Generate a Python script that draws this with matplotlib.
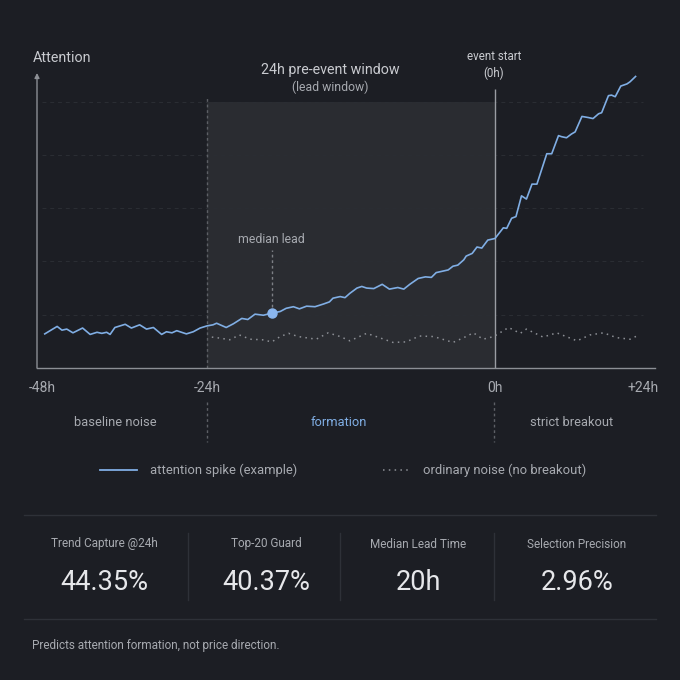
import numpy as np
import matplotlib
matplotlib.use("Agg")
import matplotlib.pyplot as plt
from matplotlib.lines import Line2D

# --- data ---
spike_h = [-47.6, -45.8, -45.1, -44.4, -43.5, -42.1, -41.0, -40.0, -39.3, -38.6, -38.1, -37.4,
           -35.9, -35.0, -33.8, -32.8, -31.8, -30.6, -29.9, -29.1, -28.4, -27.0, -26.0, -25.0,
           -24.0, -23.5, -23.2, -22.4, -21.8, -21.1, -20.6, -20.0, -19.3, -18.6, -17.9, -17.4,
           -16.8, -16.3, -15.7, -15.0, -14.3, -13.8, -13.5, -12.9, -12.5, -12.1, -11.5, -11.1,
           -10.7, -10.1, -9.4, -8.8, -8.1, -7.6, -7.1, -6.4, -5.8, -5.3, -4.9, -4.3, -3.9, -3.5,
           -3.1, -2.6, -2.4, -1.9, -1.5, -1.1, -0.6, 0.0, 1.35, 1.9, 2.7, 3.4, 4.3, 5.1, 6.0,
           6.8, 8.4, 9.2, 10.3, 10.8, 11.6, 12.4, 13.0, 14.1, 15.1, 15.9, 16.8, 17.3, 18.4,
           18.9, 19.5, 20.4, 21.4, 21.9, 22.8]
spike_v = [0.64, 0.78, 0.71, 0.73, 0.66, 0.75, 0.63, 0.67, 0.65, 0.67, 0.63, 0.76,
           0.82, 0.75, 0.81, 0.73, 0.76, 0.63, 0.68, 0.66, 0.70, 0.64, 0.68, 0.75,
           0.79, 0.81, 0.84, 0.76, 0.83, 0.93, 0.91, 1.01, 0.99, 1.03, 1.06, 1.12,
           1.15, 1.11, 1.16, 1.15, 1.20, 1.24, 1.31, 1.34, 1.32, 1.40, 1.50, 1.53,
           1.50, 1.49, 1.57, 1.48, 1.51, 1.48, 1.57, 1.68, 1.71, 1.70, 1.79, 1.82, 1.84, 1.91,
           1.93, 2.03, 2.10, 2.15, 2.27, 2.25, 2.40, 2.43, 2.63, 2.62, 2.81, 2.84, 3.23, 3.17, 3.45,
           3.45, 4.02, 4.02, 4.36, 4.34, 4.32, 4.39, 4.43, 4.72, 4.70, 4.68, 4.77, 4.79, 5.11,
           5.12, 5.09, 5.29, 5.33, 5.37, 5.47]

noise_h = [-23.6, -22.9, -22.1, -21.3, -20.4, -19.4, -18.6, -17.9, -17.2, -16.4, -14.9, -13.9,
           -12.9, -12.1, -10.7, -9.9, -8.5, -7.4, -6.3, -5.1, -3.5, -2.6, -1.8, -1.0, -0.1,
           2.2, 4.1, 5.1, 7.8, 10.0, 13.3, 15.4, 17.6, 19.7, 21.9, 23.0]
noise_v = [0.58, 0.56, 0.53, 0.62, 0.54, 0.53, 0.49, 0.59, 0.65, 0.59, 0.54, 0.66,
           0.59, 0.51, 0.65, 0.59, 0.48, 0.49, 0.60, 0.59, 0.48, 0.57, 0.66, 0.54, 0.59,
           0.76, 0.65, 0.73, 0.58, 0.66, 0.51, 0.62, 0.66, 0.57, 0.54, 0.60]

median_lead_h = -18.6
tick_h = [-48, -24, 0, 24]
tick_labels = ["-48h", "-24h", "0h", "+24h"]
zones = ["baseline noise", "formation", "strict breakout"]
legend_labels = ["attention spike (example)", "ordinary noise (no breakout)"]
metric_names = ["Trend Capture @24h", "Top-20 Guard", "Median Lead Time", "Selection Precision"]
metric_values = ["44.35%", "40.37%", "20h", "2.96%"]
footnote = "Predicts attention formation, not price direction."

# --- style ---
BG = "#1c1e24"; SHADE = "#2a2c31"; AXIS = "#8c8f95"; GRID = "#2b2e34"
TXT = "#c9cbd0"; DIM = "#a7aab0"; BLUE = "#80aee4"; NOISE = "#8d9096"; SEP = "#2e3138"
plt.rcParams["font.family"] = ["Roboto", "DejaVu Sans"]

W = H = 680


def fx(x):
    return x / W


def fy(y):
    return 1 - y / H


# piecewise hour scale: the formation window is stretched
_hx = [-60, -48, -24, 0, 24, 40]
_px = [-40.5, 42, 207, 495, 643, 741.7]


def _fwd(x):
    return np.interp(x, _hx, _px)


def _inv(p):
    return np.interp(p, _px, _hx)


fig = plt.figure(figsize=(6.8, 6.8), dpi=100)
fig.patch.set_facecolor(BG)
ax = fig.add_axes([fx(37), fy(368), fx(655 - 37), (368 - 73) / H])
ax.set_facecolor(BG)
ax.set_xscale("function", functions=(_fwd, _inv))
ax.set_xlim(-48.73, 25.95)
ax.set_ylim(0, 5.535)

ax.axvspan(-24, 0, ymin=0, ymax=5 / 5.535, color=SHADE, lw=0, zorder=0)
for g in range(1, 6):
    ax.plot([-48, 24], [g, g], color=GRID, lw=0.7, ls=(0, (4, 4)), zorder=1)

ax.vlines(-24, 0, 5.07, color="#5d6066", lw=1, ls=(0, (2, 2)), zorder=2)
ax.vlines(0, 0, 5.23, color="#9a9da3", lw=1, zorder=2)

ax.plot(noise_h, noise_v, color=NOISE, lw=1.1, ls=(0, (1, 2.8)), zorder=3)
ax.plot(spike_h, spike_v, color=BLUE, lw=1.2, zorder=4)

i = int(np.argmin(np.abs(np.array(spike_h) - median_lead_h)))
mx, my = spike_h[i], spike_v[i]
ax.vlines(mx, my + 0.12, 2.21, color="#7d8086", lw=1, ls=(0, (2, 2)), zorder=3)
ax.plot([mx], [my], "o", ms=6.5, color="#8ab6ee", zorder=5)
ax.text(mx, 2.42, "median lead", ha="center", va="center", fontsize=8.8, color=DIM)

for s in ["top", "right", "left"]:
    ax.spines[s].set_visible(False)
ax.spines["bottom"].set_color(AXIS)
ax.spines["bottom"].set_linewidth(1)
ax.annotate("", xy=(0, 1.0), xytext=(0, 0), xycoords="axes fraction",
            arrowprops=dict(arrowstyle="-|>", color=AXIS, lw=1, mutation_scale=7,
                            shrinkA=0, shrinkB=0))
ax.set_yticks([])
ax.set_xticks(tick_h)
ax.set_xticklabels(tick_labels)
ax.tick_params(axis="x", length=0, pad=9, labelsize=10, labelcolor=DIM)

# header texts
fig.text(fx(33), fy(58), "Attention", ha="left", va="center", fontsize=10.3, color=TXT)
fig.text(fx(330), fy(70), "24h pre-event window", ha="center", va="center", fontsize=10.3, color=TXT)
fig.text(fx(330), fy(87), "(lead window)", ha="center", va="center", fontsize=8.8, color=DIM)
fig.text(fx(494), fy(57), "event start", ha="center", va="center", fontsize=8.3, color=TXT)
fig.text(fx(494), fy(73), "(0h)", ha="center", va="center", fontsize=8.3, color=TXT)

# zone band
zone_x = [115, 339, 572]
zone_c = [DIM, BLUE, DIM]
for z, x, c in zip(zones, zone_x, zone_c):
    fig.text(fx(x), fy(422), z, ha="center", va="center", fontsize=9.3, color=c)
for x in [207, 494]:
    fig.add_artist(Line2D([fx(x), fx(x)], [fy(402), fy(442)], color="#5d6066",
                          lw=1, ls=(0, (2, 2))))

# legend row
fig.add_artist(Line2D([fx(100), fx(137)], [fy(470), fy(470)], color=BLUE, lw=1.3))
fig.text(fx(150), fy(470), legend_labels[0], ha="left", va="center", fontsize=9.4, color=DIM)
fig.add_artist(Line2D([fx(383), fx(411)], [fy(470), fy(470)], color=NOISE, lw=1.1,
                      ls=(0, (1, 2.8))))
fig.text(fx(423), fy(470), legend_labels[1], ha="left", va="center", fontsize=9.4, color=DIM)

# metrics panel
for y in [515, 619]:
    fig.add_artist(Line2D([fx(24), fx(656)], [fy(y), fy(y)], color=SEP, lw=1))
for x in [188, 340, 494]:
    fig.add_artist(Line2D([fx(x), fx(x)], [fy(533), fy(600)], color=SEP, lw=1))
col_x = [104, 266, 418, 577]
for name, val, x in zip(metric_names, metric_values, col_x):
    fig.text(fx(x), fy(544), name, ha="center", va="center", fontsize=8.5, color=DIM)
    fig.text(fx(x), fy(582), val, ha="center", va="center", fontsize=19.5, color="#e6e7ea")

fig.text(fx(32), fy(646), footnote, ha="left", va="center", fontsize=8.5, color=DIM)

fig.savefig("out.png", dpi=100, facecolor=BG)
